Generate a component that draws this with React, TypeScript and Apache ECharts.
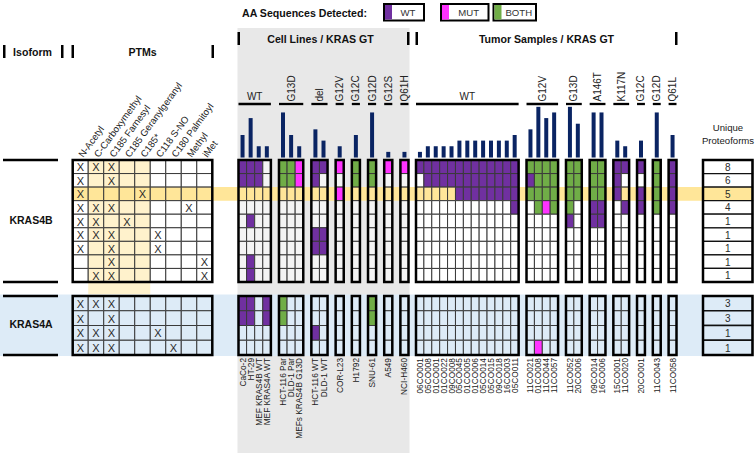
import React, { useEffect, useRef } from "react";
import * as echarts from "echarts";

const FONT = "'Liberation Sans', Arial, Helvetica, sans-serif";

// ================= DATA =================
const legendTitle = "AA Sequences Detected:";
const legendItems = ["WT", "MUT", "BOTH"];
const isoforms = ["KRAS4B", "KRAS4A"];
const sectionTitles = ["Isoform", "PTMs", "Cell Lines / KRAS GT", "Tumor Samples / KRAS GT"];
const proteoformTitle = ["Unique", "Proteoforms"];

const ptmNames = [
  "N-Acetyl", "C-Carboxymethyl", "C185 Farnesyl", "C185 Geranylgeranyl", "C185*",
  "C118 S-NO", "C180 Palmitoyl", "Methyl", "iMet",
];
// X = PTM present
const ptm4B = [
  "XXX......",
  "X.X......",
  "X...X....",
  "XXX....X.",
  "XX.X.....",
  "XXX..X...",
  "X.X..X...",
  "..X.....X",
  ".XX.....X",
];
const ptm4A = ["XXX......", "X.X......", "XXX..X...", "XXX...X.."];

const cellLineGroups = ["WT", "G13D", "del", "G12V", "G12C", "G12D", "G12S", "Q61H"];
const cellLineGroupSizes = [4, 3, 2, 1, 1, 1, 1, 1];
const cellLineNames = [
  "CaCo-2", "HT-29", "MEF KRAS4B WT", "MEF KRAS4A WT",
  "HCT-116 Par", "DLD-1 Par", "MEFs KRAS4B G13D",
  "HCT-116 WT", "DLD-1 WT", "COR-L23", "H1792", "SNU-61", "A549", "NCI-H460",
];
const cellLineBars = [4, 7, 2, 2, 8, 4, 2, 5, 3, 2, 4, 8, 1, 1];
// P = WT, M = MUT, G = BOTH, . = not detected ; "|" separates genotype groups
const cellLine4B = [
  "PPP.|GGM|PP|M|G|G|M|M",
  "PPP.|GGM|P.|.|G|G|.|.",
  "....|...|..|M|.|.|.|.",
  "....|...|..|.|.|.|.|.",
  ".P..|...|..|.|.|.|.|.",
  "....|...|PP|.|.|.|.|.",
  "....|...|PP|.|.|.|.|.",
  ".P..|...|..|.|.|.|.|.",
  ".P..|...|..|.|.|.|.|.",
];
const cellLine4A = [
  "PP.P|G..|..|.|.|G|.|.",
  "PP.P|G..|..|.|.|G|.|.",
  "....|...|P.|.|.|.|.|.",
  "....|...|..|.|.|.|.|.",
];

const tumorGroups = ["WT", "G12V", "G13D", "A146T", "K117N", "G12C", "G12D", "Q61L"];
const tumorGroupSizes = [13, 4, 2, 2, 2, 1, 1, 1];
const tumorNames = [
  "06CO001", "05CO008", "01CO001", "01CO022", "09CO008", "05CO045", "01CO005", "01CO006",
  "05CO014", "05CO015", "09CO018", "16CO003", "05CO011",
  "11CO021", "01CO008", "11CO044", "11CO057",
  "11CO052", "20CO006", "09CO014", "16CO006", "15CO001", "11CO020",
  "20CO001", "11CO043", "11CO058",
];
const tumorBars = [1, 2, 2, 2, 2, 3, 3, 3, 3, 3, 3, 3, 4, 5, 9, 7, 8, 9, 6, 8, 8, 3, 2, 3, 8, 4];
const tumor4B = [
  "PPPPPPPPPPPPP|GGGG|GG|GG|PP|P|G|P",
  ".PPPPPPPPPPPP|PGGG|GG|GG|P.|.|G|P",
  ".....PPPPPPPP|GGGG|GG|GG|P.|P|G|P",
  "............P|.GMG|G.|PP|.P|P|G|P",
  ".............|....|P.|PP|..|.|.|.",
  ".............|....|..|..|..|.|.|.",
  ".............|....|..|..|..|.|.|.",
  ".............|....|..|..|..|.|.|.",
  ".............|....|..|..|..|.|.|.",
];
const tumor4A = [
  ".............|....|..|..|..|.|.|.",
  ".............|....|..|..|..|.|.|.",
  ".............|....|..|..|..|.|.|.",
  ".............|.M..|..|..|..|.|.|.",
];

const proteoforms4B = [8, 6, 5, 4, 1, 1, 1, 1, 1];
const proteoforms4A = [3, 3, 1, 1];
const HIGHLIGHT_ROW = 2;

// ================= STYLE / LAYOUT =================
const COLORS = {
  wt: "#7030A0",
  mut: "#FF33FF",
  both: "#70AD47",
  bar: "#0A2463",
  hiRow: "#FFE699",
  hiCol: "#FFF2CC",
  band4A: "#DDEBF7",
  panel: "#E8E8E8",
  clCell: "#F4F4F4",
  ink: "#111111",
};
const CODES = ".PMGX";
const CODE_FILL: (string | null)[] = [null, COLORS.wt, COLORS.mut, COLORS.both, null];

const L = {
  top4B: 160,
  bottom4B: 282,
  top4A: 296,
  bottom4A: 355,
  barTop: 104,
  barBottom: 157.5,
  barMax: 9.5,
  ptmX: [72.7, 212.3],
  clX: [238.5, 408.5],
  tuX: [416, 676.5],
  pfX: [703, 752.5],
};

const al = (h: string, v: string) => ({ align: h, textAlign: h, verticalAlign: v, textVerticalAlign: v });
const tstyle = (text: string, size: number, extra: any = {}) => ({
  text,
  fontSize: size,
  fontFamily: FONT,
  fill: COLORS.ink,
  ...extra,
});

function toCodes(row: string) {
  return row.replace(/\|/g, "").split("").map((ch) => CODES.indexOf(ch));
}

function slotsFor(sizes: number[], names: string[]) {
  const slotNames: string[] = [];
  const colSlot: number[] = [];
  const spans: number[][] = [];
  let k = 0;
  sizes.forEach((n, g) => {
    if (g > 0) slotNames.push("");
    const start = slotNames.length;
    for (let i = 0; i < n; i++) {
      colSlot.push(slotNames.length);
      slotNames.push(names[k++]);
    }
    spans.push([start, slotNames.length - 1, g]);
  });
  return { slotNames, colSlot, spans };
}

function buildOption() {
  const grids: any[] = [];
  const xAxis: any[] = [];
  const yAxis: any[] = [];
  const series: any[] = [];
  const hidden = { show: false };

  function addGrid(x: number[], y0: number, y1: number, cats: string[], yMax: number, inverse: boolean, label?: any) {
    const i = grids.length;
    grids.push({ left: x[0], top: y0, width: x[1] - x[0], height: y1 - y0 });
    xAxis.push({
      type: "category",
      gridIndex: i,
      data: cats,
      show: !!label,
      position: label ? label.position : "bottom",
      axisLine: hidden,
      axisTick: hidden,
      splitLine: hidden,
      axisLabel: label ? { show: true, interval: 0, fontFamily: FONT, ...label.style } : hidden,
    });
    yAxis.push({ type: "value", gridIndex: i, min: 0, max: yMax, inverse, show: false, splitLine: hidden });
    return i;
  }

  function cellRender(kind: string, iso: number, emptyFill: string) {
    return (params: any, api: any) => {
      const slot = api.value(0);
      const r = api.value(1);
      const code = api.value(2);
      const c = api.value(3);
      const p = api.coord([slot, r]);
      const sz = api.size([1, 1]);
      let fill = emptyFill;
      if (iso === 1) fill = COLORS.band4A;
      else if (r === HIGHLIGHT_ROW) fill = COLORS.hiRow;
      else if (kind === "ptm" && c >= 1 && c <= 4) fill = COLORS.hiCol;
      if (kind === "sample" && CODE_FILL[code]) fill = CODE_FILL[code] as string;
      const stroke = kind === "pf" ? "#111" : "#3a3a3a";
      const lw = kind === "pf" ? 1.3 : 1;
      const children: any[] = [
        {
          type: "rect",
          shape: { x: p[0] - sz[0] / 2, y: p[1], width: sz[0], height: sz[1] },
          style: { fill, stroke, lineWidth: lw },
        },
      ];
      const label = kind === "ptm" && code === 4 ? "X" : kind === "pf" ? String(code) : "";
      if (label) {
        children.push({
          type: "text",
          x: p[0],
          y: p[1] + sz[1] / 2 + 0.5,
          style: tstyle(label, kind === "pf" ? 10 : 11, { fill: "#2a2a2a", ...al("center", "middle") }),
        });
      }
      return { type: "group", children };
    };
  }

  function addMatrix(gi: number, rows: string[], colSlot: number[], kind: string, iso: number, emptyFill: string) {
    const data: number[][] = [];
    rows.forEach((row, r) => toCodes(row).forEach((code, c) => data.push([colSlot[c], r, code, c])));
    series.push({
      type: "custom",
      xAxisIndex: gi,
      yAxisIndex: gi,
      data,
      z: 2,
      silent: true,
      encode: { x: 0, y: 1 },
      renderItem: cellRender(kind, iso, emptyFill),
    });
  }

  function addOutline(gi: number, spans: number[][], rows: number) {
    series.push({
      type: "custom",
      xAxisIndex: gi,
      yAxisIndex: gi,
      data: spans,
      z: 4,
      silent: true,
      encode: { x: 0, y: 1 },
      renderItem: (params: any, api: any) => {
        const a = api.coord([api.value(0), 0]);
        const b = api.coord([api.value(1), rows]);
        const w = api.size([1, 0])[0];
        return {
          type: "rect",
          shape: { x: a[0] - w / 2, y: a[1], width: b[0] - a[0] + w, height: b[1] - a[1] },
          style: { fill: "none", stroke: "#000", lineWidth: 2.5 },
        };
      },
    });
  }

  function addBars(gi: number, slotNames: string[], colSlot: number[], values: number[], spans: number[][], groups: string[]) {
    series.push({
      type: "bar",
      xAxisIndex: gi,
      yAxisIndex: gi,
      barWidth: 4,
      silent: true,
      itemStyle: { color: COLORS.bar },
      data: slotNames.map((_, s) => {
        const c = colSlot.indexOf(s);
        return c >= 0 ? values[c] : "-";
      }),
    });
    series.push({
      type: "custom",
      xAxisIndex: gi,
      yAxisIndex: gi,
      data: spans,
      z: 4,
      silent: true,
      encode: { x: 0, y: 1 },
      renderItem: (params: any, api: any) => {
        const a = api.coord([api.value(0), L.barMax]);
        const b = api.coord([api.value(1), L.barMax]);
        const w = api.size([1, 0])[0];
        const y = a[1];
        const x0 = a[0] - w / 2;
        const x1 = b[0] + w / 2;
        const cx = (x0 + x1) / 2;
        const name = groups[api.value(2)];
        const text =
          name === "WT"
            ? { type: "text", x: cx, y: y - 2.5, style: tstyle(name, 10, { fill: "#222", ...al("center", "bottom") }) }
            : {
                type: "text",
                x: cx,
                y: y - 2.5,
                rotation: Math.PI / 2,
                style: tstyle(name, 10, { fill: "#222", ...al("left", "middle") }),
              };
        return {
          type: "group",
          children: [
            { type: "line", shape: { x1: x0, y1: y, x2: x1, y2: y }, style: { stroke: "#000", lineWidth: 2.3 } },
            text,
          ],
        };
      },
    });
  }

  const cl = slotsFor(cellLineGroupSizes, cellLineNames);
  const tu = slotsFor(tumorGroupSizes, tumorNames);
  const ptmIdx = ptmNames.map((_, i) => i);
  const sampleLabel = { position: "bottom", style: { rotate: 90, margin: 3, fontSize: 8.3, color: "#1a1a1a" } };

  // PTMs
  const gPtm4B = addGrid(L.ptmX, L.top4B, L.bottom4B, ptmNames, 9, true, {
    position: "top",
    style: { rotate: 54, margin: 4, fontSize: 9.5, color: "#1a1a1a" },
  });
  addMatrix(gPtm4B, ptm4B, ptmIdx, "ptm", 0, "#ffffff");
  addOutline(gPtm4B, [[0, ptmNames.length - 1, 0]], 9);
  const gPtm4A = addGrid(L.ptmX, L.top4A, L.bottom4A, ptmNames, 4, true);
  addMatrix(gPtm4A, ptm4A, ptmIdx, "ptm", 1, COLORS.band4A);
  addOutline(gPtm4A, [[0, ptmNames.length - 1, 0]], 4);

  // Cell lines
  const gCl4B = addGrid(L.clX, L.top4B, L.bottom4B, cl.slotNames, 9, true);
  addMatrix(gCl4B, cellLine4B, cl.colSlot, "sample", 0, COLORS.clCell);
  addOutline(gCl4B, cl.spans, 9);
  const gCl4A = addGrid(L.clX, L.top4A, L.bottom4A, cl.slotNames, 4, true, sampleLabel);
  addMatrix(gCl4A, cellLine4A, cl.colSlot, "sample", 1, COLORS.band4A);
  addOutline(gCl4A, cl.spans, 4);

  // Tumors
  const gTu4B = addGrid(L.tuX, L.top4B, L.bottom4B, tu.slotNames, 9, true);
  addMatrix(gTu4B, tumor4B, tu.colSlot, "sample", 0, "#ffffff");
  addOutline(gTu4B, tu.spans, 9);
  const gTu4A = addGrid(L.tuX, L.top4A, L.bottom4A, tu.slotNames, 4, true, sampleLabel);
  addMatrix(gTu4A, tumor4A, tu.colSlot, "sample", 1, COLORS.band4A);
  addOutline(gTu4A, tu.spans, 4);

  // Unique proteoforms
  const pfData = (vals: number[]) => vals.map((v, r) => [0, r, v, 0]);
  const gPf4B = addGrid(L.pfX, L.top4B, L.bottom4B, [""], 9, true);
  series.push({
    type: "custom", xAxisIndex: gPf4B, yAxisIndex: gPf4B, data: pfData(proteoforms4B), z: 2, silent: true,
    encode: { x: 0, y: 1 }, renderItem: cellRender("pf", 0, "#ffffff"),
  });
  addOutline(gPf4B, [[0, 0, 0]], 9);
  const gPf4A = addGrid(L.pfX, L.top4A, L.bottom4A, [""], 4, true);
  series.push({
    type: "custom", xAxisIndex: gPf4A, yAxisIndex: gPf4A, data: pfData(proteoforms4A), z: 2, silent: true,
    encode: { x: 0, y: 1 }, renderItem: cellRender("pf", 1, COLORS.band4A),
  });
  addOutline(gPf4A, [[0, 0, 0]], 4);

  // Bars + genotype headers
  const gClBar = addGrid(L.clX, L.barTop, L.barBottom, cl.slotNames, L.barMax, false);
  addBars(gClBar, cl.slotNames, cl.colSlot, cellLineBars, cl.spans, cellLineGroups);
  const gTuBar = addGrid(L.tuX, L.barTop, L.barBottom, tu.slotNames, L.barMax, false);
  addBars(gTuBar, tu.slotNames, tu.colSlot, tumorBars, tu.spans, tumorGroups);

  // ---------- decorations ----------
  const g: any[] = [];
  const rowH = (L.bottom4B - L.top4B) / 9;
  const ptmColW = (L.ptmX[1] - L.ptmX[0]) / ptmNames.length;
  g.push({ type: "rect", z: 0, shape: { x: L.clX[0] - 1, y: 28, width: L.clX[1] - L.clX[0] + 2, height: 425 }, style: { fill: COLORS.panel } });
  g.push({ type: "rect", z: 1, shape: { x: L.ptmX[0] + ptmColW, y: L.top4B, width: 4 * ptmColW, height: 294.5 - L.top4B }, style: { fill: COLORS.hiCol } });
  g.push({ type: "rect", z: 1, shape: { x: L.ptmX[0], y: L.top4B + HIGHLIGHT_ROW * rowH, width: L.pfX[0] - L.ptmX[0], height: rowH }, style: { fill: COLORS.hiRow } });
  g.push({ type: "rect", z: 1, shape: { x: 0, y: 294.5, width: L.pfX[0], height: 61.5 }, style: { fill: COLORS.band4A } });

  // isoform labels and rules
  [[L.top4B, L.bottom4B], [L.top4A, L.bottom4A]].forEach(([t, b], i) => {
    g.push({ type: "line", z: 5, shape: { x1: 3, y1: t, x2: 58, y2: t }, style: { stroke: "#000", lineWidth: 2.5 } });
    g.push({ type: "line", z: 5, shape: { x1: 3, y1: b, x2: 58, y2: b }, style: { stroke: "#000", lineWidth: 2.5 } });
    g.push({
      type: "text", z: 6, x: 31, y: (t + b) / 2 - 1.5,
      style: tstyle(isoforms[i], 10.5, { fontWeight: "bold", ...al("center", "middle") }),
    });
  });

  // section headers
  const headers: [number, number, number, number][] = [
    [3, 61, 51.5, 32.5],
    [71.5, 211.5, 51.5, 142.5],
    [L.clX[0] - 1, L.clX[1] - 1.5, 38.5, 320.5],
    [L.tuX[0] - 0.5, L.tuX[1] - 1.5, 38.5, 546.5],
  ];
  headers.forEach(([xa, xb, cy, cx], i) => {
    [xa, xb].forEach((x) =>
      g.push({ type: "rect", z: 6, shape: { x, y: cy - 6.5, width: 2.5, height: 13 }, style: { fill: "#000" } })
    );
    g.push({
      type: "text", z: 6, x: cx, y: cy,
      style: tstyle(sectionTitles[i], 10.6, { fontWeight: "bold", ...al("center", "middle") }),
    });
  });

  // unique proteoforms title
  proteoformTitle.forEach((t, i) =>
    g.push({ type: "text", z: 6, x: 728, y: 127 + i * 13, style: tstyle(t, 9.6, { fill: "#1a1a1a", ...al("center", "middle") }) })
  );

  // legend
  g.push({ type: "text", z: 6, x: 242, y: 12.5, style: tstyle(legendTitle, 10.6, { fontWeight: "bold", ...al("left", "middle") }) });
  const legendX = [[384, 424], [441, 488.5], [493.5, 536]];
  const legendColors = [COLORS.wt, COLORS.mut, COLORS.both];
  legendItems.forEach((name, i) => {
    const [x0, x1] = legendX[i];
    g.push({ type: "rect", z: 6, shape: { x: x0, y: 4, width: x1 - x0, height: 16.5 }, style: { fill: "#fff", stroke: "#000", lineWidth: 2 } });
    g.push({ type: "rect", z: 7, shape: { x: x0 + 1, y: 5, width: 7, height: 14.5 }, style: { fill: legendColors[i] } });
    g.push({
      type: "text", z: 7, x: (x0 + 8 + x1) / 2, y: 12.5,
      style: tstyle(name, 9.6, { fill: "#333", ...al("center", "middle") }),
    });
  });

  return {
    animation: false,
    backgroundColor: "#ffffff",
    grid: grids,
    xAxis,
    yAxis,
    series,
    graphic: { elements: g },
  };
}

export default function App() {
  const ref = useRef<HTMLDivElement>(null);
  useEffect(() => {
    if (!ref.current) return;
    const chart = echarts.init(ref.current, null, { renderer: "svg" });
    chart.setOption(buildOption() as any);
    return () => chart.dispose();
  }, []);
  return (
    <div
      ref={ref}
      style={{ position: "absolute", left: 0, top: 0, width: 756, height: 453, background: "#fff" }}
    />
  );
}
